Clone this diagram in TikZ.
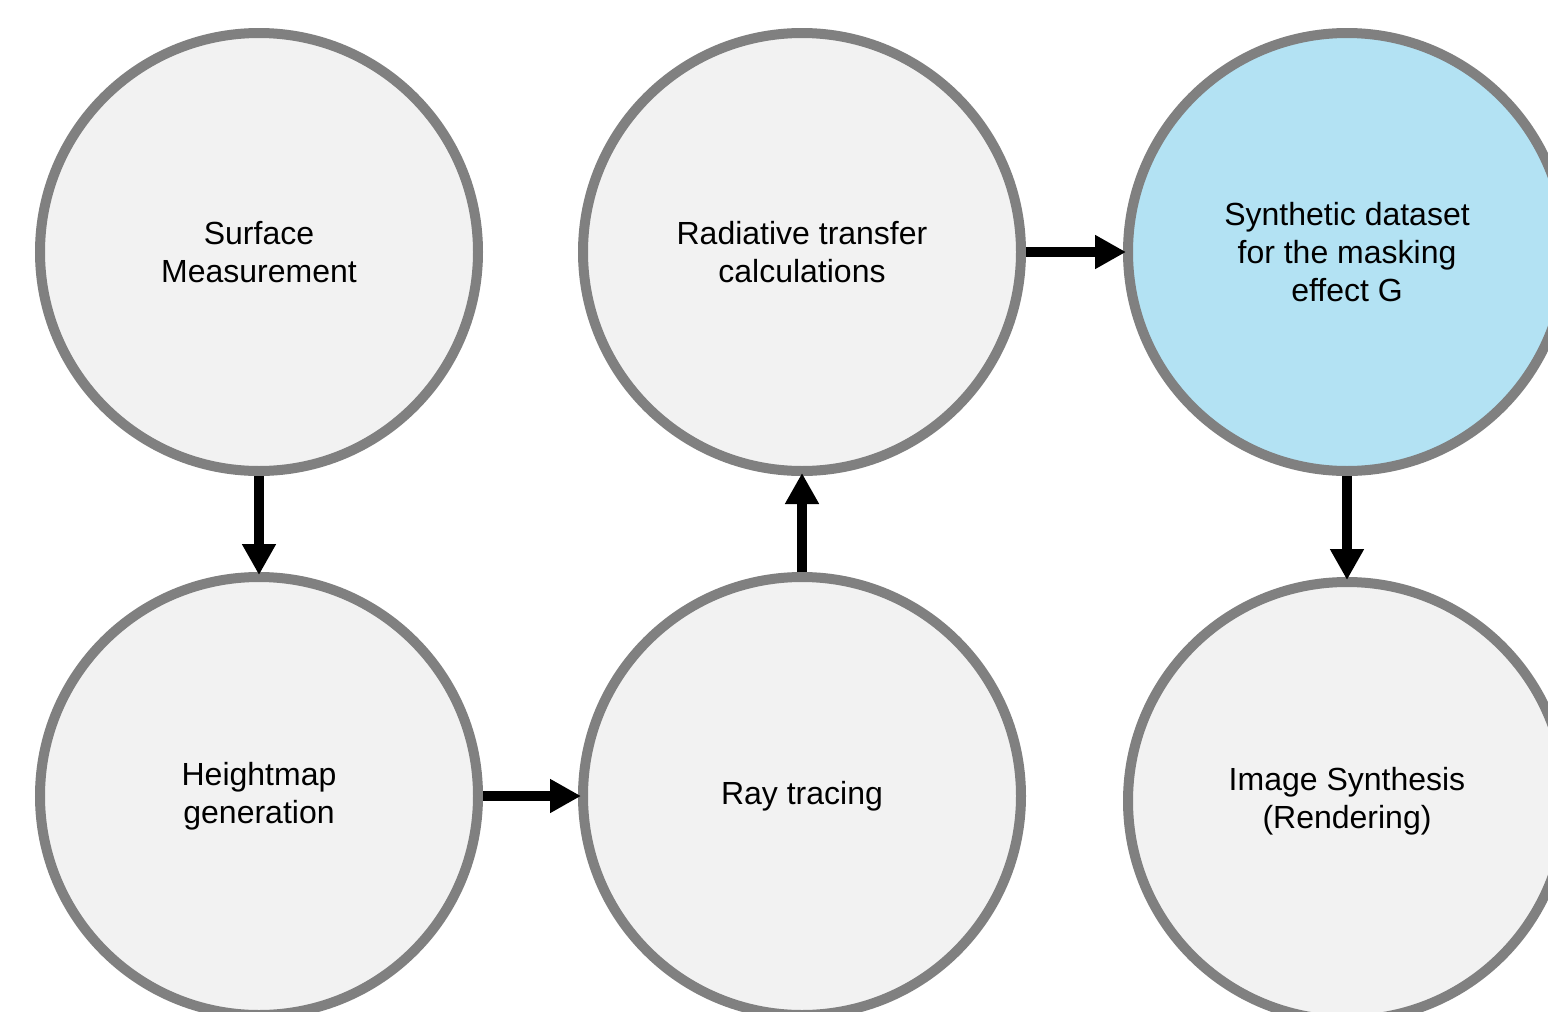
\documentclass[tikz,border=0pt]{standalone}
\usepackage{fontspec}
\setmainfont{Liberation Sans}
\usetikzlibrary{arrows.meta}
\definecolor{ringgray}{RGB}{128,128,128}
\definecolor{stepfill}{RGB}{242,242,242}
\definecolor{stepblue}{RGB}{179,226,243}
\tikzset{
  stepcircle/.style={circle, draw=ringgray, line width=10pt, fill=stepfill,
    minimum size=438pt, inner sep=0pt, align=center,
    font=\fontsize{32}{38}\selectfont},
  flowarrow/.style={line width=10pt, -{Triangle[length=31pt,width=32pt]}, black,
    shorten >=-3pt}
}
\begin{document}
\begin{tikzpicture}[x=1pt,y=-1pt]
\useasboundingbox (0,0) rectangle (1548,1012);
\fill[white] (0,0) rectangle (1548,1012);
\clip (0,0) rectangle (1548,1012);
\node[stepcircle] (sm) at (259,252) {Surface\\Measurement};
\node[stepcircle] (hg) at (259,796) {Heightmap\\generation};
\node[stepcircle] (rt) at (802,252) {Radiative transfer\\calculations};
\node[stepcircle] (ray) at (802,796) {Ray tracing};
\node[stepcircle, fill=stepblue] (sd) at (1347,252) {Synthetic dataset\\for the masking\\effect G};
\node[stepcircle] (is) at (1347,801) {Image Synthesis\\(Rendering)};
\draw[flowarrow] (sm.south) -- (hg.north);
\draw[flowarrow] (hg.east) -- (ray.west);
\draw[flowarrow] (ray.north) -- (rt.south);
\draw[flowarrow] (rt.east) -- (sd.west);
\draw[flowarrow] (sd.south) -- (is.north);
\end{tikzpicture}
\end{document}
